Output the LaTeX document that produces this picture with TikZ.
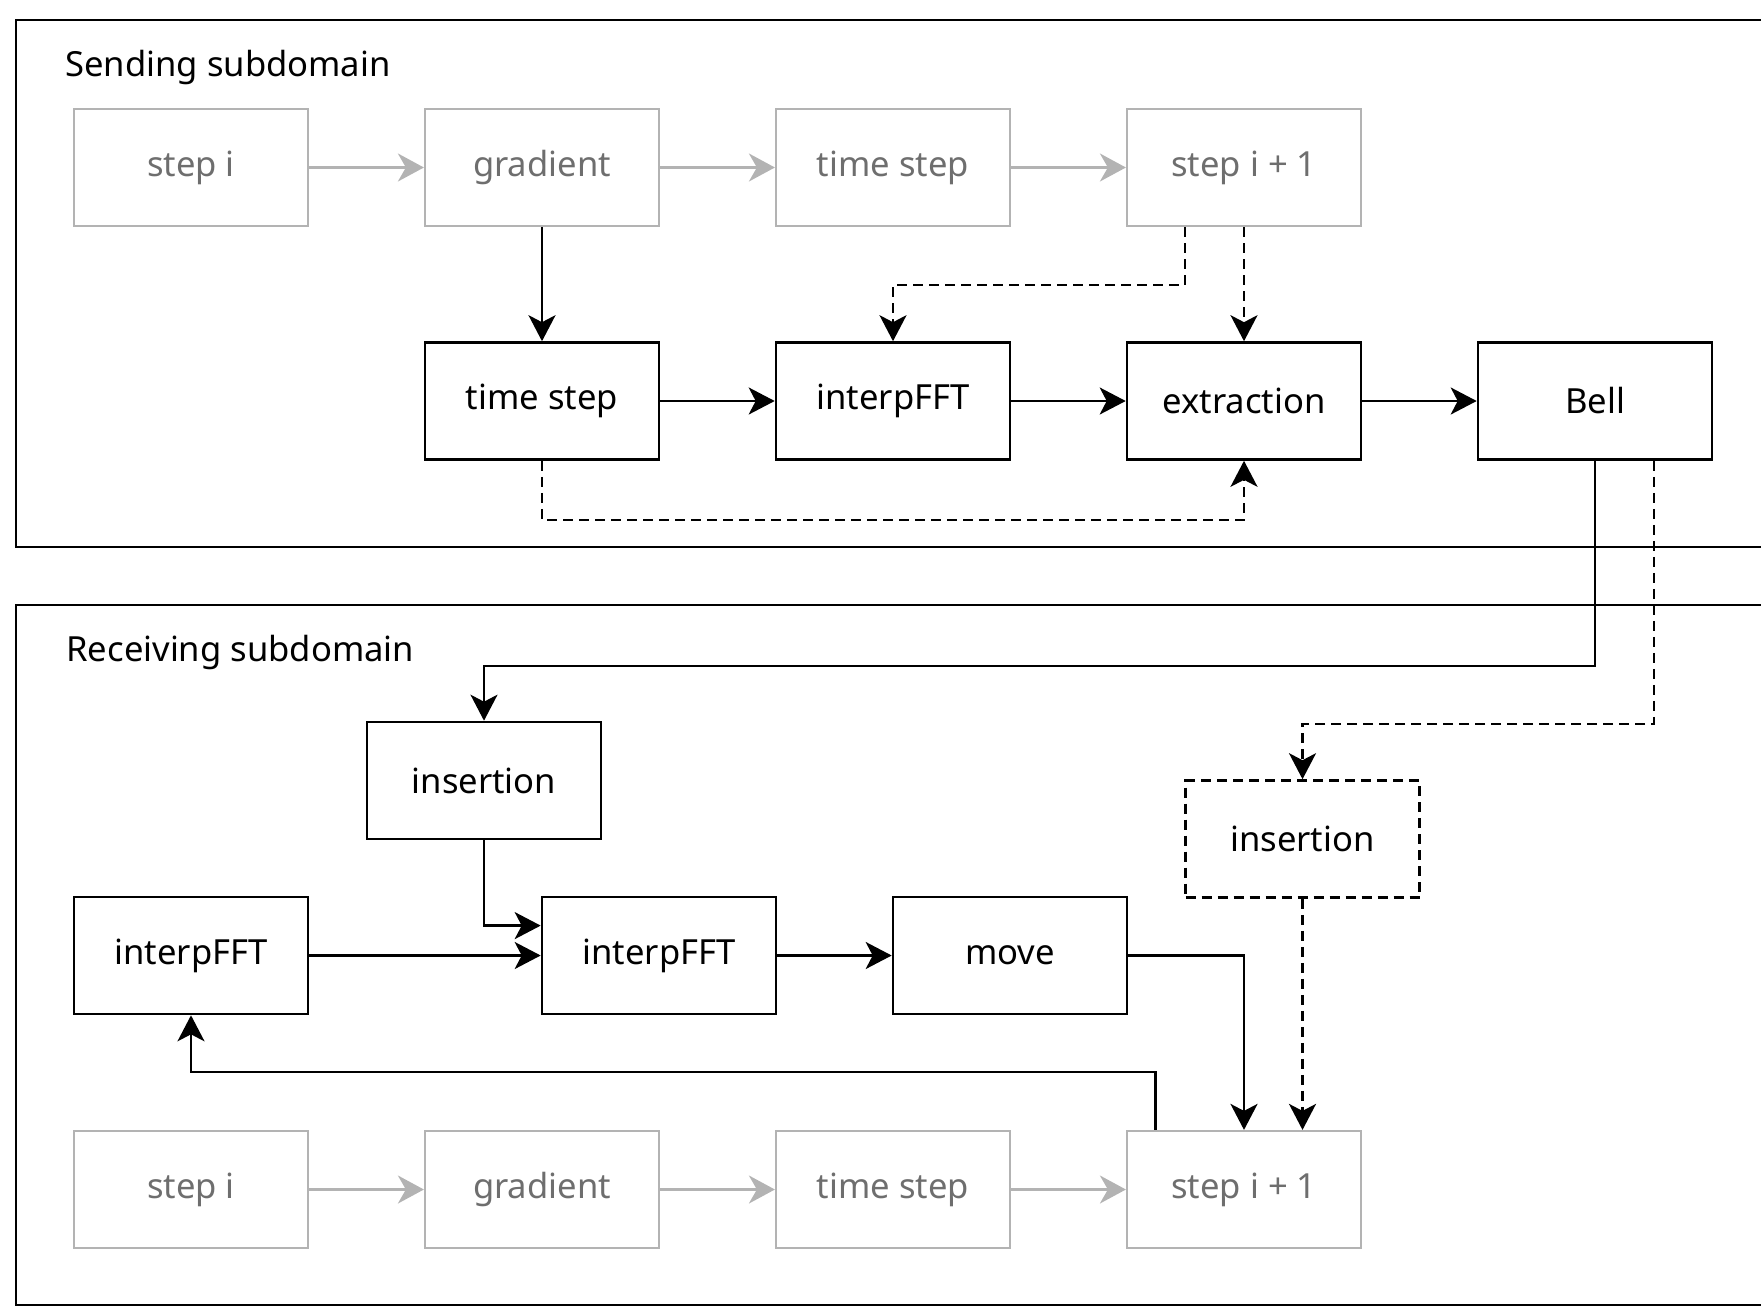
\documentclass[tikz,border=0pt]{standalone}
\usepackage{fontspec}
\setmainfont{Noto Sans}
\usetikzlibrary{arrows.meta,calc}
\definecolor{lgray}{HTML}{B3B3B3}
\definecolor{tgray}{HTML}{6E6E6E}
\begin{document}
\begin{tikzpicture}[x=0.5pt,y=-0.5pt,
  every node/.style={font=\fontsize{17.3}{20}\selectfont},
  blk/.style={draw=black,line width=1.3pt,minimum width=117pt,minimum height=58.5pt,inner sep=0pt,text=black},
  gry/.style={draw=lgray,line width=1.1pt,minimum width=117pt,minimum height=58.5pt,inner sep=0pt,text=tgray},
  dbox/.style={blk,dash pattern=on 5pt off 3pt},
  arr/.style={line width=1.3pt,draw=black,-{Stealth[length=13pt,width=13.5pt,inset=3.5pt]}},
  darr/.style={arr,dash pattern=on 5pt off 3pt},
  garr/.style={line width=1.1pt,draw=lgray,-{Stealth[length=13pt,width=14pt,inset=4pt]}},
  frame/.style={draw=black,line width=1.3pt}]
\useasboundingbox (0,0) rectangle (1761,1306);
\clip (0,0) rectangle (1761,1306);
% frames
\draw[frame] (16,20) rectangle (1800,547);
\draw[frame] (16,605) rectangle (1800,1305);
\node[anchor=base west,inner sep=0pt] (tsend) at (65,76) {Sending subdomain};
\node[anchor=base west,inner sep=0pt] (trecv) at (66,661) {Receiving subdomain};
% sending top row
\node[gry] (s1) at (191,167.5) {step i};
\node[gry] (g1) at (542,167.5) {gradient};
\node[gry] (t1) at (893,167.5) {time step};
\node[gry] (n1) at (1244,167.5) {step i + 1};
% sending second row
\node[blk] (ts) at (542,401) {time step};
\node[blk] (if1) at (893,401) {interpFFT};
\node[blk] (ex) at (1244,401) {extraction};
\node[blk] (bell) at (1595,401) {Bell};
% receiving
\node[blk] (ins) at (484,780.5) {insertion};
\node[dbox] (dins) at (1302.5,839) {insertion};
\node[blk] (rif1) at (191,955.5) {interpFFT};
\node[blk] (rif2) at (659,955.5) {interpFFT};
\node[blk] (mv) at (1010,955.5) {move};
\node[gry] (s2) at (191,1189.5) {step i};
\node[gry] (g2) at (542,1189.5) {gradient};
\node[gry] (t2) at (893,1189.5) {time step};
\node[gry] (n2) at (1244,1189.5) {step i + 1};
% gray arrows
\draw[garr] (s1.east) -- (g1.west);
\draw[garr] (g1.east) -- (t1.west);
\draw[garr] (t1.east) -- (n1.west);
\draw[garr] (s2.east) -- (g2.west);
\draw[garr] (g2.east) -- (t2.west);
\draw[garr] (t2.east) -- (n2.west);
% sending connectors
\draw[arr] (g1.south) -- (ts.north);
\coordinate (n1q) at ($(n1.south west)!0.25!(n1.south east)$);
\draw[darr] (n1q) -- ++(0,58) -| (if1.north);
\draw[darr] (n1.south) -- (ex.north);
\draw[arr] (ts.east) -- (if1.west);
\draw[arr] (if1.east) -- (ex.west);
\draw[arr] (ex.east) -- (bell.west);
\draw[darr] (ts.south) -- ++(0,59) -| (ex.south);
% cross connectors
\draw[arr] (bell.south) -- ++(0,205) -| (ins.north);
\coordinate (bq) at ($(bell.south west)!0.75!(bell.south east)$);
\draw[darr] (bq) -- ++(0,263) -| (dins.north);
% receiving connectors
\coordinate (r2q) at ($(rif2.north west)!0.25!(rif2.south west)$);
\draw[arr] (ins.south) |- (r2q);
\draw[arr] (rif1.east) -- (rif2.west);
\draw[arr] (rif2.east) -- (mv.west);
\draw[arr] (mv.east) -| (n2.north);
\draw[darr] (dins.south) -- (dins.south |- n2.north);
\coordinate (n2e) at ($(n2.north west)!0.125!(n2.north east)$);
\draw[arr] (n2e) -- ++(0,-58) -| (rif1.south);
\end{tikzpicture}
\end{document}
